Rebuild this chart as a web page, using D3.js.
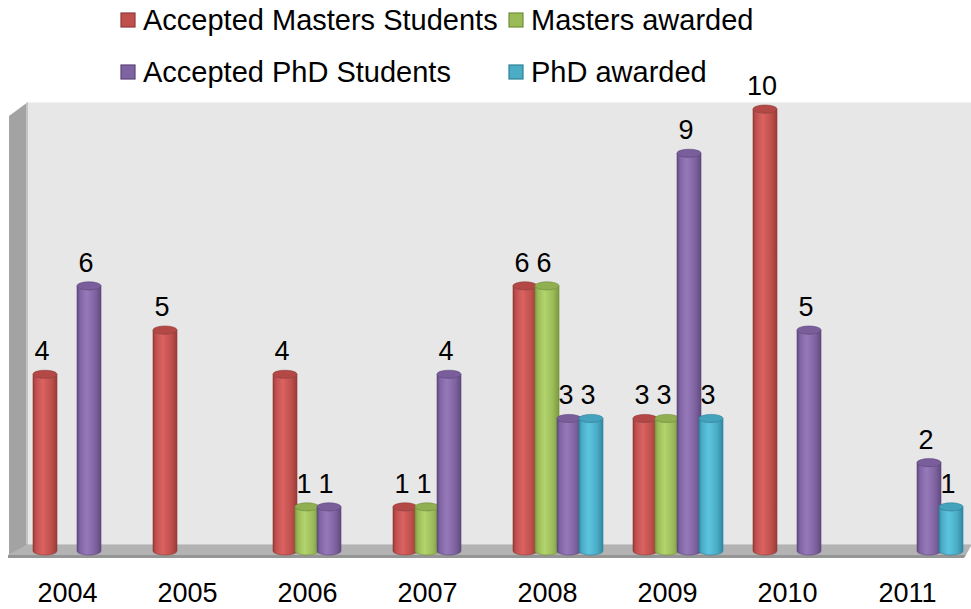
<!DOCTYPE html>
<html>
<head>
<meta charset="utf-8">
<script src="https://cdn.jsdelivr.net/npm/d3@7"></script>
<style>
  html, body { margin: 0; padding: 0; background: #fff; }
  svg { display: block; }
  text { font-family: "Liberation Sans", Arial, sans-serif; fill: #000; }
</style>
</head>
<body>
<svg id="chart" width="971" height="609"></svg>
<script>
// ---- Data ----
const years = ["2004", "2005", "2006", "2007", "2008", "2009", "2010", "2011"];
const seriesNames = ["Accepted Masters Students", "Masters awarded", "Accepted PhD Students", "PhD awarded"];
const acceptedMasters = [4, 5, 4, 1, 6, 3, 10, 0];
const mastersAwarded  = [0, 0, 1, 1, 6, 3, 0, 0];
const acceptedPhD     = [6, 0, 1, 4, 3, 9, 5, 2];
const phdAwarded      = [0, 0, 0, 0, 3, 3, 0, 1];
const seriesValues = [acceptedMasters, mastersAwarded, acceptedPhD, phdAwarded];

// ---- Styles ----
const colors = [
  {base: "#C0504D", light: "#DA6361", dark: "#9A3C3A", cap: "#B34846", stroke: "#8E3A38"},
  {base: "#9BBB59", light: "#B2D46C", dark: "#7A9A3E", cap: "#90AF50", stroke: "#718F3A"},
  {base: "#8064A2", light: "#9679BA", dark: "#5F4A80", cap: "#7A5E9C", stroke: "#5A4578"},
  {base: "#4BACC6", light: "#5CC4E0", dark: "#2F8AA3", cap: "#43A2BC", stroke: "#2E8099"}
];

const svg = d3.select("#chart");
const defs = svg.append("defs");
colors.forEach((c, i) => {
  const g = defs.append("linearGradient").attr("id", "cyl" + i)
    .attr("x1", "0%").attr("x2", "100%").attr("y1", "0%").attr("y2", "0%");
  g.append("stop").attr("offset", "0%").attr("stop-color", c.dark);
  g.append("stop").attr("offset", "12%").attr("stop-color", c.base);
  g.append("stop").attr("offset", "40%").attr("stop-color", c.light);
  g.append("stop").attr("offset", "75%").attr("stop-color", c.base);
  g.append("stop").attr("offset", "100%").attr("stop-color", c.dark);
});

// ---- Geometry ----
const wallLeft = 28, wallTop = 102, floorBack = 544, floorFront = 555;
const depthDX = 20, depthDY = 13;

const xYear = d3.scaleBand().domain(years).range([18, 18 + 120 * years.length]);
const xSeries = d3.scaleBand().domain(seriesNames).range([15, 15 + 22 * 4]);
const barW = 24;
const y = d3.scaleLinear().domain([0, 10]).range([551, 109]);

// back wall
svg.append("rect").attr("x", wallLeft).attr("y", wallTop)
  .attr("width", 971 - wallLeft).attr("height", floorBack - wallTop)
  .attr("fill", "#E7E7E7");
svg.append("line").attr("x1", wallLeft).attr("x2", 971).attr("y1", wallTop + 0.5).attr("y2", wallTop + 0.5)
  .attr("stroke", "#F2F2F2").attr("stroke-width", 1);

// left side wall
svg.append("polygon")
  .attr("points", [[wallLeft - depthDX + 1, wallTop + 14], [wallLeft, wallTop], [wallLeft, floorBack], [wallLeft - depthDX + 1, floorBack + depthDY]].map(p => p.join(",")).join(" "))
  .attr("fill", "#A3A3A3");
svg.append("line").attr("x1", wallLeft - 1).attr("x2", wallLeft - 1).attr("y1", wallTop + 1).attr("y2", floorBack)
  .attr("stroke", "#C4C4C4").attr("stroke-width", 2);

// floor
svg.append("polygon")
  .attr("points", [[wallLeft, floorBack], [972, floorBack], [966, floorFront], [wallLeft - depthDX, floorFront]].map(p => p.join(",")).join(" "))
  .attr("fill", "#B3B3B3");
svg.append("polygon")
  .attr("points", [[wallLeft - depthDX, floorFront], [966, floorFront], [964, floorFront + 3], [wallLeft - depthDX, floorFront + 3]].map(p => p.join(",")).join(" "))
  .attr("fill", "#959595");
svg.append("line").attr("x1", wallLeft).attr("x2", 971).attr("y1", floorBack + 0.5).attr("y2", floorBack + 0.5)
  .attr("stroke", "#C8C8C8");

// ---- Bars (cylinders) ----
const ry = 4;
const bars = [];
years.forEach((yr, gi) => {
  seriesNames.forEach((s, si) => {
    const v = seriesValues[si][gi];
    if (v > 0) bars.push({year: yr, series: s, si: si, value: v});
  });
});

const barG = svg.append("g");
bars.forEach(d => {
  const x0 = xYear(d.year) + xSeries(d.series);
  const x1 = x0 + barW;
  const rx = barW / 2;
  const yt = y(d.value), yb = y(0);
  const c = colors[d.si];
  const g = barG.append("g");
  g.append("path")
    .attr("d", `M${x0},${yt} L${x0},${yb} A${rx},${ry} 0 0 0 ${x1},${yb} L${x1},${yt} A${rx},${ry} 0 0 1 ${x0},${yt} Z`)
    .attr("fill", `url(#cyl${d.si})`)
    .attr("stroke", c.stroke).attr("stroke-width", 0.6);
  g.append("ellipse")
    .attr("cx", x0 + rx).attr("cy", yt).attr("rx", rx).attr("ry", ry)
    .attr("fill", c.cap).attr("stroke", c.stroke).attr("stroke-width", 0.6);
});

// value labels
svg.append("g").selectAll("text").data(bars).join("text")
  .attr("x", d => xYear(d.year) + xSeries(d.series) + barW / 2 - 3)
  .attr("y", d => y(d.value) - 14)
  .attr("text-anchor", "middle")
  .attr("font-size", 27)
  .text(d => d.value);

// ---- X axis labels ----
const axis = d3.axisBottom(xYear).tickSize(0).tickPadding(0);
const axG = svg.append("g").attr("transform", "translate(-10.5, 583)").call(axis);
axG.select(".domain").remove();
axG.selectAll("text").attr("font-size", 27).attr("font-family", "\"Liberation Sans\", Arial, sans-serif")
  .attr("fill", "#000").attr("dy", 0).attr("y", 19);

// ---- Legend ----
const legendPos = [[121, 13], [509, 13], [121, 65], [509, 65]];
const lg = svg.append("g");
seriesNames.forEach((s, i) => {
  const [lx, ly] = legendPos[i];
  lg.append("rect").attr("x", lx).attr("y", ly).attr("width", 14).attr("height", 14)
    .attr("fill", colors[i].base).attr("stroke", colors[i].stroke).attr("stroke-width", 1.2);
  lg.append("text").attr("x", lx + 22).attr("y", ly + 17)
    .attr("font-size", 29).text(s);
});
</script>
</body>
</html>
